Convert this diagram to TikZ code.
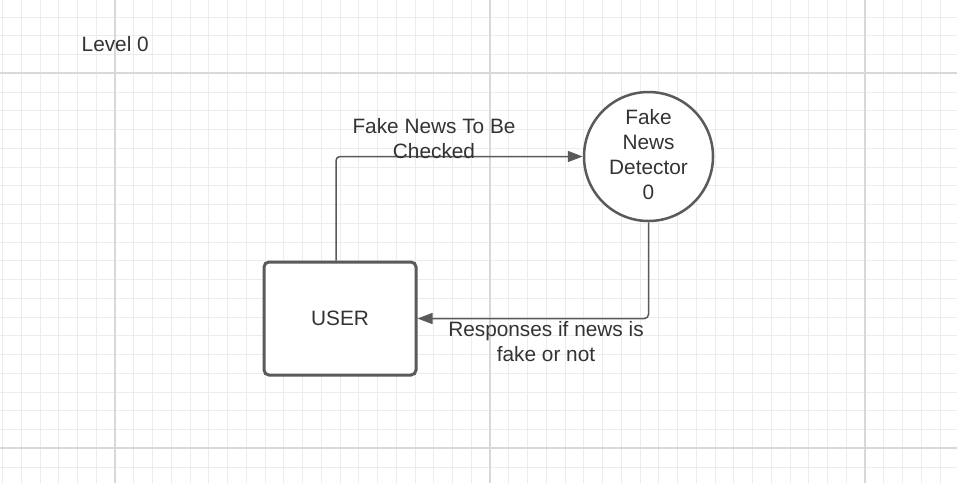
\documentclass[tikz,border=0pt]{standalone}
\usepackage{fontspec}
\setmainfont{Liberation Sans}
\usetikzlibrary{arrows.meta}

\definecolor{linegray}{HTML}{5A5A5A}
\definecolor{txtgray}{HTML}{333333}
\definecolor{gridminor}{HTML}{ECECEC}
\definecolor{gridmajor}{HTML}{D8D8D8}

\tikzset{
	minorline/.style={gridminor, line width=1pt},
	majorline/.style={gridmajor, line width=2pt},
	lbl/.style={text=txtgray, inner sep=0pt, align=center, font=\fontsize{20.8}{25}\selectfont},
	userbox/.style={draw=linegray, line width=3pt, rounded corners=5pt, fill=white, minimum width=152pt, minimum height=113pt, lbl},
	procnode/.style={draw=linegray, line width=2.5pt, circle, fill=white, minimum size=129pt, lbl},
	flow/.style={draw=linegray, line width=1.5pt, rounded corners=4pt, -{Triangle[length=15pt,width=11pt]}}
}

\begin{document}
\begin{tikzpicture}[x=1pt,y=-1pt]
	\useasboundingbox (0,0) rectangle (957,483);
	\fill[white] (0,0) rectangle (957,483);
	% grid
	\foreach \i in {-6,...,44}
		\draw[minorline] ({115+\i*18.75},0) -- ({115+\i*18.75},483);
	\foreach \j in {-3,...,21}
		\draw[minorline] (0,{73.3+\j*18.75}) -- (957,{73.3+\j*18.75});
	\foreach \i in {0,20,40}
		\draw[majorline] ({115+\i*18.75},0) -- ({115+\i*18.75},483);
	\foreach \j in {0,20}
		\draw[majorline] (0,{73.3+\j*18.75}) -- (957,{73.3+\j*18.75});
	
	\node[lbl, anchor=base west] (level) at (81.5,51.7) {Level 0};
	\node[procnode] (detector) at (648.5,156.5) {\raisebox{3pt}{\begin{tabular}{@{}c@{}}Fake\\News\\Detector\\0\end{tabular}}};
	\node[userbox] (user) at (340,318.5) {USER};
	
	\draw[flow] ([xshift=-4pt]user.north) |- (detector.west);
	\draw[flow] (detector.south) |- (user.east);
	
	\node[lbl, anchor=north] (checklbl) at (434,118.5) {Fake News To Be\\Checked};
	\node[lbl, anchor=north] (resplbl) at (546,321.5) {Responses if news is\\fake or not};
\end{tikzpicture}
\end{document}
